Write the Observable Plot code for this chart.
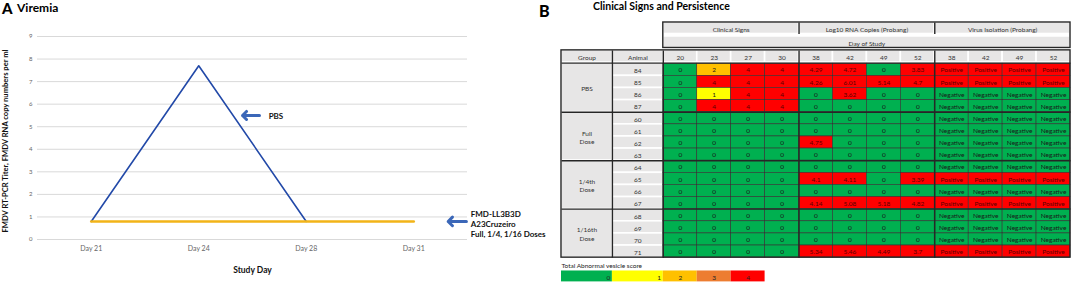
<!DOCTYPE html>
<html><head><meta charset="utf-8">
<script src="https://cdn.jsdelivr.net/npm/d3@7"></script>
<script src="https://cdn.jsdelivr.net/npm/@observablehq/plot@0.6"></script>
<style>
body{margin:0;background:#fff;font-family:Lato,sans-serif;}
#wrap{position:relative;width:1074px;height:283px;overflow:hidden;}
.abs{position:absolute;white-space:nowrap;color:#000;line-height:1.15;}
</style></head><body><div id="wrap"></div>
<script>
// ---------- Panel A: Viremia ----------
const studyDays = ["Day 21", "Day 24", "Day 28", "Day 31"];
const pbsTiter = [0.8, 7.7, 0.8, null];
const vaccinatedTiter = [0.8, 0.8, 0.8, 0.8];
const titerTicks = [0, 1, 2, 3, 4, 5, 6, 7, 8, 9];
const yAxisLabel = "FMDV RT-PCR Titer, FMDV RNA copy numbers per ml";
const xAxisLabel = "Study Day";
const seriesNotes = [
  {label: "PBS", from: 1.565, to: 1.407, y: 5.5, textX: 1.65, textY: 5.5},
  {label: "FMD-LL3B3D\nA23Cruzeiro\nFull, 1/4, 1/16 Doses", from: 3.49, to: 3.32, y: 0.8, textX: 3.53, textY: 0.68}
];

// ---------- Panel B: Clinical Signs and Persistence ----------
const groupNames = ["PBS", "Full\nDose", "1/4th\nDose", "1/16th\nDose"];
const animalIds = [[84, 85, 86, 87], [60, 61, 62, 63], [64, 65, 66, 67], [68, 69, 70, 71]];
const clinicalDays = [20, 23, 27, 30];
const rnaDays = [38, 42, 49, 52];
const isolationDays = [38, 42, 49, 52];
const clinicalScores = [
  [0, 2, 4, 4], [0, 4, 4, 4], [0, 1, 4, 4], [0, 4, 4, 4],
  [0, 0, 0, 0], [0, 0, 0, 0], [0, 0, 0, 0], [0, 0, 0, 0],
  [0, 0, 0, 0], [0, 0, 0, 0], [0, 0, 0, 0], [0, 0, 0, 0],
  [0, 0, 0, 0], [0, 0, 0, 0], [0, 0, 0, 0], [0, 0, 0, 0]
];
const rnaCopies = [
  [4.29, 4.72, 0, 3.83], [4.26, 6.01, 5.14, 4.7], [0, 3.62, 0, 0], [0, 0, 0, 0],
  [0, 0, 0, 0], [0, 0, 0, 0], [4.75, 0, 0, 0], [0, 0, 0, 0],
  [0, 0, 0, 0], [4.1, 4.11, 0, 3.39], [0, 0, 0, 0], [4.14, 5.08, 5.18, 4.82],
  [0, 0, 0, 0], [0, 0, 0, 0], [0, 0, 0, 0], [5.34, 5.46, 4.49, 3.7]
];
const P = "Positive", N = "Negative";
const virusIsolation = [
  [P, P, P, P], [P, P, P, P], [N, N, N, N], [N, N, N, N],
  [N, N, N, N], [N, N, N, N], [N, N, N, N], [N, N, N, N],
  [N, N, N, N], [P, P, P, P], [N, N, N, N], [P, P, P, P],
  [N, N, N, N], [N, N, N, N], [N, N, N, N], [P, P, P, P]
];
const sectionTitles = ["Clinical Signs", "Log10 RNA Copies (Probang)", "Virus Isolation (Probang)"];
const scoreLevels = [0, 1, 2, 3, 4];
const scoreColors = ["#00b050", "#ffff00", "#ffc000", "#ed7d31", "#ff0000"];
const legendTitle = "Total Abnormal vesicle score";

const GREEN = "#00b050", RED = "#ff0000", GRAY = "#e7e6e6", DARK = "#262626";
const wrap = document.getElementById("wrap");
function addDiv(text, css) {
  const d = document.createElement("div");
  d.className = "abs"; d.textContent = text; d.style.cssText += css; wrap.appendChild(d);
}

// ---- Panel A plot ----
const pbsSeries = studyDays.map((d, i) => ({i, v: pbsTiter[i]})).filter(d => d.v != null);
const vaccSeries = studyDays.map((d, i) => ({i, v: vaccinatedTiter[i]}));
const plotA = Plot.plot({
  width: 560, height: 267,
  marginTop: 20, marginBottom: 44, marginLeft: 37, marginRight: 93,
  x: {domain: [-0.5, 3.5], axis: null},
  y: {domain: [0, 9], axis: null},
  style: {fontFamily: "Lato, sans-serif", background: "transparent", overflow: "visible"},
  marks: [
    Plot.gridY(titerTicks, {stroke: "#d9d9d9", strokeOpacity: 1, strokeWidth: 1}),
    Plot.axisY(titerTicks, {tickSize: 0, tickPadding: 5, fontSize: 6, fill: "#666", label: null}),
    Plot.axisX(studyDays.map((d, i) => i), {tickFormat: i => studyDays[i], tickSize: 0, tickPadding: 7, fontSize: 7, fill: "#666", label: null}),
    Plot.text([yAxisLabel], {frameAnchor: "left", textAnchor: "middle", rotate: -90, dx: -32, dy: 3, fontWeight: "bold", fontSize: 7.6, fill: "#111"}),
    Plot.text([xAxisLabel], {frameAnchor: "bottom", dy: 33, fontWeight: "bold", fontSize: 8.5, fill: "#111"}),
    Plot.line(pbsSeries, {x: "i", y: "v", stroke: "#2249a8", strokeWidth: 1.6}),
    Plot.line(vaccSeries, {x: "i", y: "v", stroke: "#f2b418", strokeWidth: 2.6}),
    Plot.arrow(seriesNotes, {x1: "from", x2: "to", y1: "y", y2: "y", stroke: "#3b67b8", strokeWidth: 3, headLength: 5, headAngle: 90}),
    Plot.text(seriesNotes, {x: "textX", y: "textY", text: "label", textAnchor: "start", fontWeight: "bold", fontSize: 8, lineHeight: 1.25, fill: "#111"})
  ]
});
plotA.style.position = "absolute"; plotA.style.left = "0px"; plotA.style.top = "16px";
wrap.appendChild(plotA);
addDiv("A", "left:2px;top:0px;font-size:15px;font-weight:900;");
addDiv("Viremia", "left:17px;top:1px;font-size:12px;font-weight:bold;");

// ---- Panel B table ----
const R1 = [-3.4, -2.45], R2 = [-2.25, -1.3], R3 = [-1.1, -0.1];
const rowsFlat = [];
animalIds.forEach((g, gi) => g.forEach(a => rowsFlat.push({gi, a})));
const dataCells = [];
rowsFlat.forEach((row, ri) => {
  clinicalScores[ri].forEach((s, j) => dataCells.push({x1: 3 + j, x2: 4 + j, y1: ri, y2: ri + 1, text: String(s), fill: scoreColors[s]}));
  rnaCopies[ri].forEach((v, j) => dataCells.push({x1: 7 + j, x2: 8 + j, y1: ri, y2: ri + 1, text: String(v), fill: v > 0 ? RED : GREEN}));
  virusIsolation[ri].forEach((v, j) => dataCells.push({x1: 11 + j, x2: 12 + j, y1: ri, y2: ri + 1, text: v, fill: v === P ? RED : GREEN}));
});
const headCells = [];
sectionTitles.forEach((t, k) => headCells.push({x1: 3 + 4 * k, x2: 7 + 4 * k, y1: R1[0], y2: R1[1], text: t}));
headCells.push({x1: 3, x2: 15, y1: R2[0], y2: R2[1], text: "Day of Study"});
headCells.push({x1: 0, x2: 1.5, y1: R3[0], y2: R3[1], text: "Group"});
headCells.push({x1: 1.5, x2: 3, y1: R3[0], y2: R3[1], text: "Animal"});
[...clinicalDays, ...rnaDays, ...isolationDays].forEach((d, j) => headCells.push({x1: 3 + j, x2: 4 + j, y1: R3[0], y2: R3[1], text: String(d)}));
groupNames.forEach((g, gi) => headCells.push({x1: 0, x2: 1.5, y1: gi * 4, y2: gi * 4 + 4, text: g}));
rowsFlat.forEach((row, ri) => headCells.push({x1: 1.5, x2: 3, y1: ri, y2: ri + 1, text: String(row.a)}));

const frames = [
  {x1: 3, x2: 15, y1: R1[0], y2: R2[1]},
  {x1: 0, x2: 15, y1: R3[0], y2: 16}
];
const vLines = [
  {x: 7, y1: R1[0], y2: R1[1]}, {x: 11, y1: R1[0], y2: R1[1]},
  {x: 1.5, y1: R3[0], y2: 16}, {x: 3, y1: R3[0], y2: 16}, {x: 7, y1: R3[0], y2: 16}, {x: 11, y1: R3[0], y2: 16}
];
const hLines = [{y: -0.05}, {y: 4}, {y: 8}, {y: 12}];

const legendCells = scoreLevels.map((s, k) => {
  const x1 = k === 0 ? 0 : k === 1 ? 1.5 : k + 1;
  const x2 = k === 0 ? 1.5 : k === 1 ? 3 : k + 2;
  return {x1, x2, y1: 17.1, y2: 18.0, fill: scoreColors[k], text: String(s), tx: k < 2 ? x2 - 0.12 : (x1 + x2) / 2, anchor: k < 2 ? "end" : "middle"};
});

const plotB = Plot.plot({
  width: 544, height: 267,
  marginTop: 6, marginBottom: 1, marginLeft: 31, marginRight: 4,
  x: {domain: [0, 15], axis: null},
  y: {domain: [-3.4, 18.05], axis: null, reverse: true},
  style: {fontFamily: "Lato, sans-serif", background: "transparent", overflow: "visible"},
  marks: [
    Plot.rect(headCells, {x1: "x1", x2: "x2", y1: "y1", y2: "y2", fill: GRAY, stroke: "#fff", strokeWidth: 1.6}),
    Plot.text(headCells, {x: d => (d.x1 + d.x2) / 2, y: d => (d.y1 + d.y2) / 2 + 0.05, text: "text", fontSize: 6.5, fill: "#333", lineHeight: 1.3}),
    Plot.rect(dataCells, {x1: "x1", x2: "x2", y1: "y1", y2: "y2", fill: "fill", stroke: "#333", strokeWidth: 0.6}),
    Plot.text(dataCells, {x: d => (d.x1 + d.x2) / 2, y: d => d.y1 + 0.55, text: "text", fontSize: 6.5, fill: d => d.fill === RED ? "#5a0000" : "#1a1a1a"}),
    Plot.rect(frames, {x1: "x1", x2: "x2", y1: "y1", y2: "y2", fill: "none", stroke: DARK, strokeWidth: 1.4}),
    Plot.link(vLines, {x1: "x", x2: "x", y1: "y1", y2: "y2", stroke: DARK, strokeWidth: 1.4}),
    Plot.link(hLines, {x1: 0, x2: 15, y1: "y", y2: "y", stroke: DARK, strokeWidth: 1.4}),
    Plot.text([legendTitle], {x: 0, y: 16.68, textAnchor: "start", fontSize: 6.5, fill: "#222"}),
    Plot.rect(legendCells, {x1: "x1", x2: "x2", y1: "y1", y2: "y2", fill: "fill"}),
    Plot.text(legendCells, {x: "tx", y: d => (d.y1 + d.y2) / 2 + 0.1, text: "text", textAnchor: "anchor", fontSize: 6.5, fill: "#222"})
  ]
});
plotB.style.position = "absolute"; plotB.style.left = "530px"; plotB.style.top = "16px";
wrap.appendChild(plotB);
addDiv("B", "left:539px;top:2px;font-size:16px;font-weight:900;");
addDiv("Clinical Signs and Persistence", "left:593px;top:0px;font-size:10.5px;font-weight:bold;");
</script></body></html>
